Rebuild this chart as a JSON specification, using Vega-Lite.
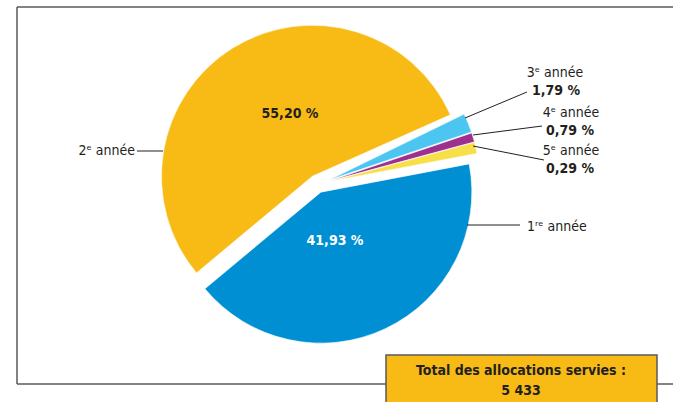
{
  "$schema": "https://vega.github.io/schema/vega-lite/v6.json",
  "width": 634,
  "height": 368,
  "autosize": {"type": "none"},
  "padding": {"left": 0, "top": 0, "right": 39, "bottom": 34},
  "background": "white",
  "config": {
    "view": {"stroke": null},
    "font": "Liberation Sans Narrow, DejaVu Sans Condensed, Arial Narrow, sans-serif"
  },
  "datasets": {
    "parts": [
      {"classe": "3ᵉ année", "part": 1.79, "rang": 1},
      {"classe": "4ᵉ année", "part": 0.79, "rang": 2},
      {"classe": "5ᵉ année", "part": 0.29, "rang": 3},
      {"classe": "1ʳᵉ année", "part": 41.93, "rang": 4},
      {"classe": "2ᵉ année", "part": 55.20, "rang": 5}
    ],
    "cadre": [
      {"x": 17, "y": 7, "x2": 700, "y2": 7},
      {"x": 17, "y": 7, "x2": 17, "y2": 384},
      {"x": 17, "y": 384, "x2": 700, "y2": 384}
    ],
    "reperes": [
      {"x": 137, "y": 151, "x2": 163, "y2": 151},
      {"x": 467, "y": 225, "x2": 520, "y2": 225},
      {"x": 465, "y": 118, "x2": 527, "y2": 92},
      {"x": 473, "y": 135, "x2": 542, "y2": 126},
      {"x": 473, "y": 146, "x2": 544, "y2": 160}
    ],
    "noms": [
      {"texte": "3ᵉ année", "x": 555, "y": 77},
      {"texte": "4ᵉ année", "x": 571, "y": 117},
      {"texte": "5ᵉ année", "x": 571, "y": 155}
    ],
    "valeurs": [
      {"texte": "1,79 %", "x": 556, "y": 95},
      {"texte": "0,79 %", "x": 570, "y": 135},
      {"texte": "0,29 %", "x": 570, "y": 173}
    ],
    "nomGauche": [{"texte": "2ᵉ année", "x": 135, "y": 155}],
    "nomDroite": [{"texte": "1ʳᵉ année", "x": 527, "y": 231}],
    "pctOrange": [{"texte": "55,20 %", "x": 290, "y": 118}],
    "pctBleu": [{"texte": "41,93 %", "x": 335, "y": 245}],
    "encadre": [{"x": 386, "y": 355, "x2": 657, "y2": 420}],
    "total": [
      {"texte": "Total des allocations servies :", "x": 521, "y": 375},
      {"texte": "5 433", "x": 521, "y": 395}
    ]
  },
  "layer": [
    {
      "data": {"name": "cadre"},
      "mark": {"type": "rule", "color": "#5a5a5a", "strokeWidth": 1.5, "clip": false},
      "encoding": {
        "x": {"field": "x", "type": "quantitative", "scale": {"domain": [0, 634], "nice": false, "zero": false}, "axis": null},
        "y": {"field": "y", "type": "quantitative", "scale": {"domain": [0, 368], "nice": false, "zero": false, "reverse": true}, "axis": null},
        "x2": {"field": "x2"},
        "y2": {"field": "y2"}
      }
    },
    {
      "data": {"name": "parts"},
      "transform": [
        {"stack": "part", "groupby": [], "as": ["debut", "fin"], "sort": [{"field": "rang", "order": "ascending"}]}
      ],
      "mark": {
        "type": "arc",
        "outerRadius": 151,
        "stroke": "white",
        "strokeWidth": 0.6,
        "thetaOffset": {"expr": "datum.rang == 1 ? -0.0855 : datum.rang == 2 ? -0.0698 : datum.rang == 3 ? -0.0576 : 0"},
        "theta2Offset": {"expr": "datum.rang == 1 ? -0.0698 : datum.rang == 2 ? -0.0576 : datum.rang == 5 ? -0.0506 : 0"},
        "xOffset": {"expr": "(datum.rang <= 3 ? 12 : 9) * sin(scale('theta', (datum.debut + datum.fin) / 2))"},
        "yOffset": {"expr": "-(datum.rang <= 3 ? 12 : 9) * cos(scale('theta', (datum.debut + datum.fin) / 2))"}
      },
      "encoding": {
        "theta": {"field": "debut", "type": "quantitative", "scale": {"domain": [0, 100], "range": [1.2025, 7.4857]}},
        "theta2": {"field": "fin"},
        "color": {
          "field": "classe",
          "type": "nominal",
          "scale": {
            "domain": ["1ʳᵉ année", "2ᵉ année", "3ᵉ année", "4ᵉ année", "5ᵉ année"],
            "range": ["#008fd3", "#f8ba14", "#4cc6f0", "#9d2f8f", "#f7df4a"]
          },
          "legend": null
        }
      }
    },
    {
      "data": {"name": "reperes"},
      "mark": {"type": "rule", "color": "#231f20", "strokeWidth": 1, "clip": false},
      "encoding": {
        "x": {"field": "x", "type": "quantitative"},
        "y": {"field": "y", "type": "quantitative"},
        "x2": {"field": "x2"},
        "y2": {"field": "y2"}
      }
    },
    {
      "data": {"name": "noms"},
      "mark": {"type": "text", "align": "center", "baseline": "alphabetic", "fontSize": 14, "color": "#231f20", "clip": false},
      "encoding": {
        "x": {"field": "x", "type": "quantitative"},
        "y": {"field": "y", "type": "quantitative"},
        "text": {"field": "texte"}
      }
    },
    {
      "data": {"name": "valeurs"},
      "mark": {"type": "text", "align": "center", "baseline": "alphabetic", "fontSize": 14, "fontWeight": "bold", "color": "#231f20", "clip": false},
      "encoding": {
        "x": {"field": "x", "type": "quantitative"},
        "y": {"field": "y", "type": "quantitative"},
        "text": {"field": "texte"}
      }
    },
    {
      "data": {"name": "nomGauche"},
      "mark": {"type": "text", "align": "right", "baseline": "alphabetic", "fontSize": 14, "color": "#231f20", "clip": false},
      "encoding": {
        "x": {"field": "x", "type": "quantitative"},
        "y": {"field": "y", "type": "quantitative"},
        "text": {"field": "texte"}
      }
    },
    {
      "data": {"name": "nomDroite"},
      "mark": {"type": "text", "align": "left", "baseline": "alphabetic", "fontSize": 14, "color": "#231f20", "clip": false},
      "encoding": {
        "x": {"field": "x", "type": "quantitative"},
        "y": {"field": "y", "type": "quantitative"},
        "text": {"field": "texte"}
      }
    },
    {
      "data": {"name": "pctOrange"},
      "mark": {"type": "text", "align": "center", "baseline": "alphabetic", "fontSize": 14, "fontWeight": "bold", "color": "#231f20", "clip": false},
      "encoding": {
        "x": {"field": "x", "type": "quantitative"},
        "y": {"field": "y", "type": "quantitative"},
        "text": {"field": "texte"}
      }
    },
    {
      "data": {"name": "pctBleu"},
      "mark": {"type": "text", "align": "center", "baseline": "alphabetic", "fontSize": 14, "fontWeight": "bold", "color": "white", "clip": false},
      "encoding": {
        "x": {"field": "x", "type": "quantitative"},
        "y": {"field": "y", "type": "quantitative"},
        "text": {"field": "texte"}
      }
    },
    {
      "data": {"name": "encadre"},
      "mark": {"type": "rect", "fill": "#f8ba14", "stroke": "#5a5a5a", "strokeWidth": 1.5, "clip": false},
      "encoding": {
        "x": {"field": "x", "type": "quantitative"},
        "y": {"field": "y", "type": "quantitative"},
        "x2": {"field": "x2"},
        "y2": {"field": "y2"}
      }
    },
    {
      "data": {"name": "total"},
      "mark": {"type": "text", "align": "center", "baseline": "alphabetic", "fontSize": 14, "fontWeight": "bold", "color": "#231f20", "clip": false},
      "encoding": {
        "x": {"field": "x", "type": "quantitative"},
        "y": {"field": "y", "type": "quantitative"},
        "text": {"field": "texte"}
      }
    }
  ]
}
